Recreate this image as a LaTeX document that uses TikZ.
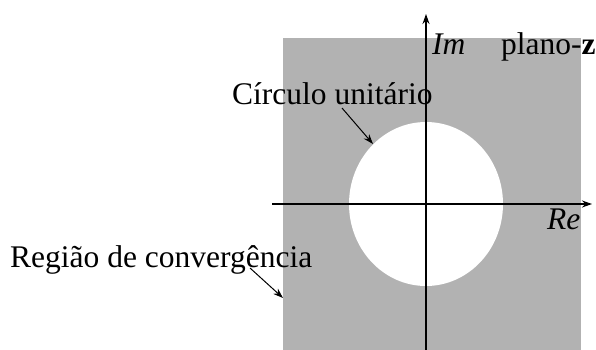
\documentclass[tikz,border=0pt]{standalone}
\usepackage{fontspec}
\setmainfont{Liberation Serif}
\usetikzlibrary{arrows.meta}

\begin{document}
\begin{tikzpicture}[x=1pt, y=-1pt, font=\fontsize{31.5}{36}\selectfont]
    \useasboundingbox (0,0) rectangle (596,350);
    \tikzset{lbl/.style={anchor=base west, inner sep=0pt}}
    \coordinate (O) at (426,204);
    \coordinate (xl) at (272,204);
    \coordinate (xr) at (592,204);
    \coordinate (yb) at (426,350);
    \coordinate (yt) at (426,14);
    \coordinate (S1) at (342,108);
    \coordinate (E1) at (373,144);
    \coordinate (S2) at (250,268);
    \coordinate (E2) at (283,298);
    % regiao de convergencia e circulo unitario
    \fill[black!30] (283,38) rectangle (581,350);
    \fill[white] (O) ellipse (77 and 82);
    % eixos
    \draw[line width=1.3pt, -{Stealth[length=10pt, width=7pt]}] (xl) -- (xr);
    \draw[line width=1.3pt, -{Stealth[length=10pt, width=7pt]}] (yb) -- (yt);
    \node[lbl] (im) at (432,55) {\textit{Im}};
    \node[lbl] (plano) at (501,55) {plano-\textbf{z}};
    \node[lbl] (re) at (547,229) {\textit{Re}};
    \node[lbl] (circ) at (232,105) {Círculo unitário};
    \node[lbl] (reg) at (10,267) {Região de convergência};
    \draw[line width=1pt, -{Stealth[length=10pt, width=7pt]}] (S1) -- (E1);
    \draw[line width=1pt, -{Stealth[length=10pt, width=7pt]}] (S2) -- (E2);
\end{tikzpicture}
\end{document}
